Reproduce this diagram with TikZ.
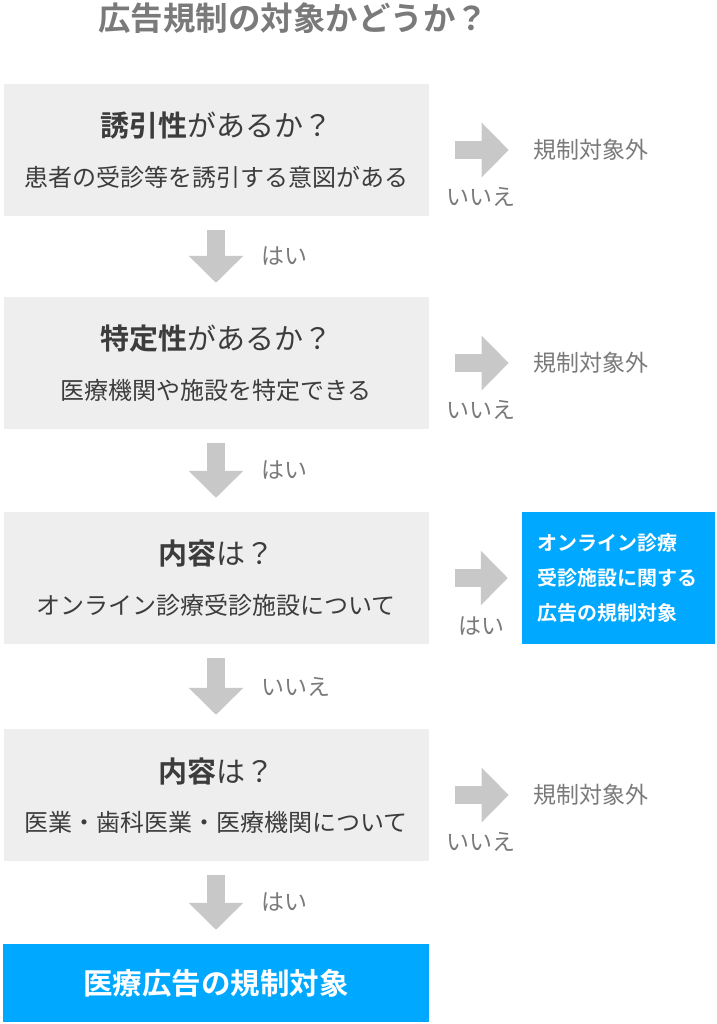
\documentclass[tikz,border=0pt]{standalone}
\usepackage{fontspec}
\setmainfont{Noto Sans CJK JP}[BoldFont={Noto Sans CJK JP Bold}]
\usetikzlibrary{arrows.meta}
\definecolor{boxgray}{HTML}{EEEEEE}
\definecolor{arrowgray}{HTML}{C8C8C8}
\definecolor{skyblue}{HTML}{00A8FF}
\definecolor{textgray}{HTML}{3C3C3C}
\definecolor{labelgray}{HTML}{7A7A7A}

\def\gap{14pt}

\begin{document}
\begin{tikzpicture}[x=1pt,y=-1pt]
  \tikzset{question/.style={fill=boxgray,minimum width=425pt,minimum height=132pt,inner sep=0pt},
    bigarrow/.style={draw=arrowgray,line width=18pt,-{Triangle[length=27pt,width=53pt]},shorten <=\gap,shorten >=\gap},
    answer/.style={text=labelgray,inner sep=0pt,font=\fontsize{23pt}{28pt}\selectfont},
    result/.style={fill=skyblue,text=white,font=\bfseries\fontsize{20pt}{35pt}\selectfont}}

  \useasboundingbox (0,0) rectangle (716,1024);
  \node[text=labelgray,font=\bfseries\fontsize{32.5pt}{38pt}\selectfont] (title) at (293,18) {広告規制の対象かどうか？};

  \foreach \i/\y/\head/\body in {1/150/{\textbf{誘引性}があるか？}/患者の受診等を誘引する意図がある,
      2/363/{\textbf{特定性}があるか？}/医療機関や施設を特定できる,
      3/578/{\textbf{内容}は？}/オンライン診療受診施設について,
      4/795/{\textbf{内容}は？}/医業・歯科医業・医療機関について} {
    \node[question] (q\i) at (216,\y) {};
    \node[text=textgray,font=\fontsize{29pt}{34pt}\selectfont] (head\i) at ([yshift=24pt]q\i.center) {\head};
    \node[text=textgray,font=\fontsize{24pt}{29pt}\selectfont] (body\i) at ([yshift=-27pt]q\i.center) {\body};
  }
  \node[result,font=\bfseries\fontsize{29.5pt}{34pt}\selectfont,minimum width=426pt,minimum height=78pt] (final) at (216,983) {医療広告の規制対象};
  \node[result,align=left,text width=163pt,inner xsep=15pt,minimum height=132pt] (online) at (618.5,578) {オンライン診療\\受診施設に関する\\広告の規制対象};

  % down
  \foreach \i/\j/\ans in {1/2/はい,2/3/はい,3/4/いいえ}
    \draw[bigarrow] (q\i.south) -- (q\j.north) node[answer,midway,anchor=west,xshift=36pt] {\ans};
  \draw[bigarrow] (q4.south) -- (final.north) node[answer,midway,anchor=west,xshift=36pt] {はい};

  % right
  \foreach \i in {1,2,4} {
    \node[answer,anchor=west] (out\i) at ([xshift=105pt]q\i.east) {規制対象外};
    \draw[bigarrow,shorten <=26pt,shorten >=25pt] (q\i.east) -- (out\i.west) node[answer,midway,yshift=-47pt] {いいえ};
  }
  \draw[bigarrow,shorten <=26pt] (q3.east) -- (online.west) node[answer,midway,xshift=6pt,yshift=-48pt] {はい};
\end{tikzpicture}
\end{document}
